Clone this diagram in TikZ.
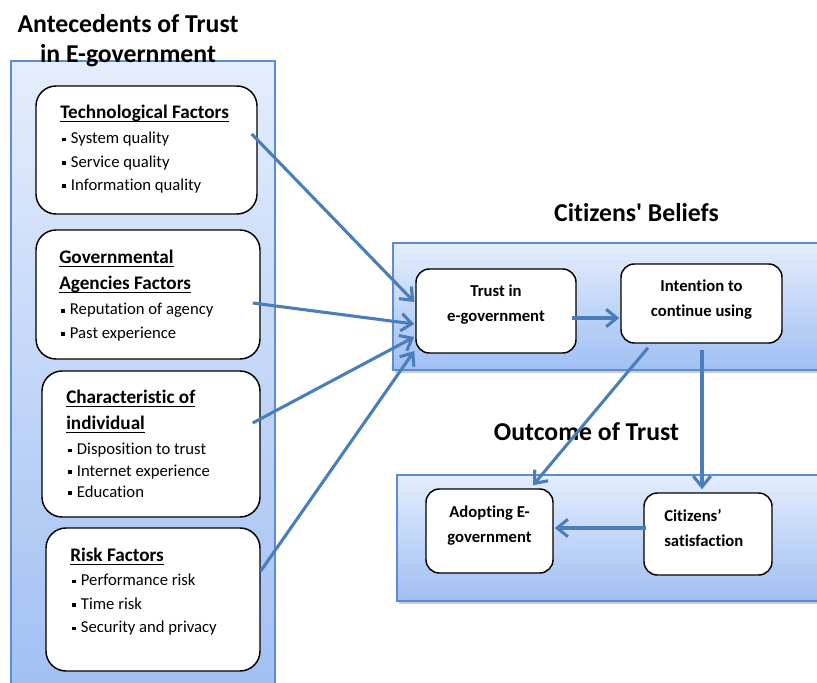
\documentclass[tikz,border=0pt]{standalone}
\usepackage{fontspec}
\setmainfont{Carlito}[Ligatures={TeX,NoCommon}]
\usetikzlibrary{arrows.meta, shadows}

\definecolor{linkblue}{RGB}{74,126,187}
\definecolor{panelline}{RGB}{92,141,211}
\definecolor{paneltop}{RGB}{228,237,252}
\definecolor{panelbot}{RGB}{160,191,243}

\newsavebox{\ulbox}
\newcommand{\titleline}[1]{{\fontsize{14.4}{19.5}\selectfont\bfseries\sbox{\ulbox}{#1}\rlap{\rule[-2.4pt]{\wd\ulbox}{0.9pt}}\usebox{\ulbox}}}
\newcommand{\sqbullet}{\hspace{1.5pt}\rule[1.8pt]{2.9pt}{2.9pt}\hspace{3.6pt}}

\begin{document}
\begin{tikzpicture}[x=0.75pt, y=-0.75pt]
		\tikzstyle{panel} = [draw=panelline, line width=0.9pt, top color=paneltop, bottom color=panelbot]
		\tikzstyle{factor} = [rectangle, rounded corners=15pt, draw=black, line width=1.1pt, fill=white, inner sep=0pt]
		\tikzstyle{belief} = [factor, rounded corners=10pt]
		\tikzstyle{list} = [anchor=north west, align=left, inner sep=0pt, font=\fontsize{12.5}{17.6}\selectfont]
		\tikzstyle{inside} = [align=center, inner sep=0pt, font=\fontsize{12.5}{18.75}\selectfont\bfseries]
		\tikzstyle{heading} = [inner sep=0pt, font=\fontsize{19.3}{22.5}\selectfont\bfseries]
		\tikzstyle{arrow} = [linkblue, line width=2.3pt, -{Straight Barb[length=8pt, width=13pt]}]
		
		\clip (0,0) rectangle (817,682);
		
		\draw [panel] (11,61) rectangle (275,700);
		\draw [panel, drop shadow={opacity=0.4, shadow xshift=1.5pt, shadow yshift=-2pt}] (393,243) rectangle (840,370);
		\draw [panel, drop shadow={opacity=0.4, shadow xshift=1.5pt, shadow yshift=-2pt}] (397,475) rectangle (840,601);
		
		\node (antecedents) [heading, align=center] at (128,41) {Antecedents of Trust\\in E-government};
		\node (beliefs) [heading, anchor=base] at (636.5,221) {Citizens\textquotesingle{} Beliefs};
		\node (outcome) [heading, anchor=base] at (586.5,440) {Outcome of Trust};
		
		\node (tech) [factor, minimum width=165.75pt, minimum height=96pt] at (146.5,150) {};
		\node (gov) [factor, minimum width=168pt, minimum height=96.75pt] at (148,294.5) {};
		\node (indiv) [factor, minimum width=163.5pt, minimum height=109.5pt] at (151,444) {};
		\node (risk) [factor, minimum width=160.5pt, minimum height=107.25pt] at (153,599.5) {};
		
		\node (techtxt) [list] at (60,105) {\titleline{Technological Factors}\\[1.2pt]
			\sqbullet System quality\\ \sqbullet Service quality\\ \sqbullet Information quality};
		\node (govtxt) [list] at (59,250) {\titleline{Governmental}\\[2pt] \titleline{Agencies Factors}\\[1.2pt]
			\sqbullet Reputation of agency\\ \sqbullet Past experience};
		\node (indivtxt) [list, font=\fontsize{12.5}{16}\selectfont] at (66,390) {\titleline{Characteristic of}\\[3.5pt] \titleline{individual}\\[2.8pt]
			\sqbullet Disposition to trust\\ \sqbullet Internet experience\\ \sqbullet Education};
		\node (risktxt) [list] at (70,548) {\titleline{Risk Factors}\\[0.5pt]
			\sqbullet Performance risk\\ \sqbullet Time risk\\ \sqbullet Security and privacy};
		
		\node (trust) [belief, minimum width=120pt, minimum height=63pt] at (496,311) {};
		\node (intent) [belief, minimum width=120.75pt, minimum height=59.25pt] at (701.5,303.5) {};
		\node (adopt) [belief, minimum width=95.25pt, minimum height=63pt] at (489.5,531) {};
		\node (satis) [belief, minimum width=96pt, minimum height=61.5pt] at (708,534) {};
		
		\node (trusttxt) [inside] at (496,305) {Trust in\\e-government};
		\node (intenttxt) [inside] at (701.5,300) {Intention to\\continue using};
		\node (adopttxt) [inside] at (489.5,526) {Adopting E-\\government};
		\node (satistxt) [inside, align=left, anchor=west] at (664,528) {Citizens’\\satisfaction};
		
		\draw [arrow] ([shift={(-6,-16)}]tech.east) -- ([shift={(-1,-9)}]trust.west);
		\draw [arrow] ([shift={(-8,8.5)}]gov.east) -- ([shift={(-1,13)}]trust.west);
		\draw [arrow] ([shift={(-8,-21)}]indiv.east) -- ([shift={(-1,26)}]trust.west);
		\draw [arrow] ([shift={(0,-28.5)}]risk.east) -- ([shift={(-1,40)}]trust.west);
		\draw [arrow] ([shift={(-5,7)}]trust.east) -- ([shift={(-1,14.5)}]intent.west);
		\draw [arrow] ([shift={(-53.5,4)}]intent.south) -- ([shift={(43.5,-3)}]adopt.north);
		\draw [arrow] ([shift={(0.5,6)}]intent.south) -- ([shift={(-6,-3)}]satis.north);
		\draw [arrow] ([shift={(3,-6)}]satis.west) -- ([shift={(1,-3)}]adopt.east);
\end{tikzpicture}
\end{document}
